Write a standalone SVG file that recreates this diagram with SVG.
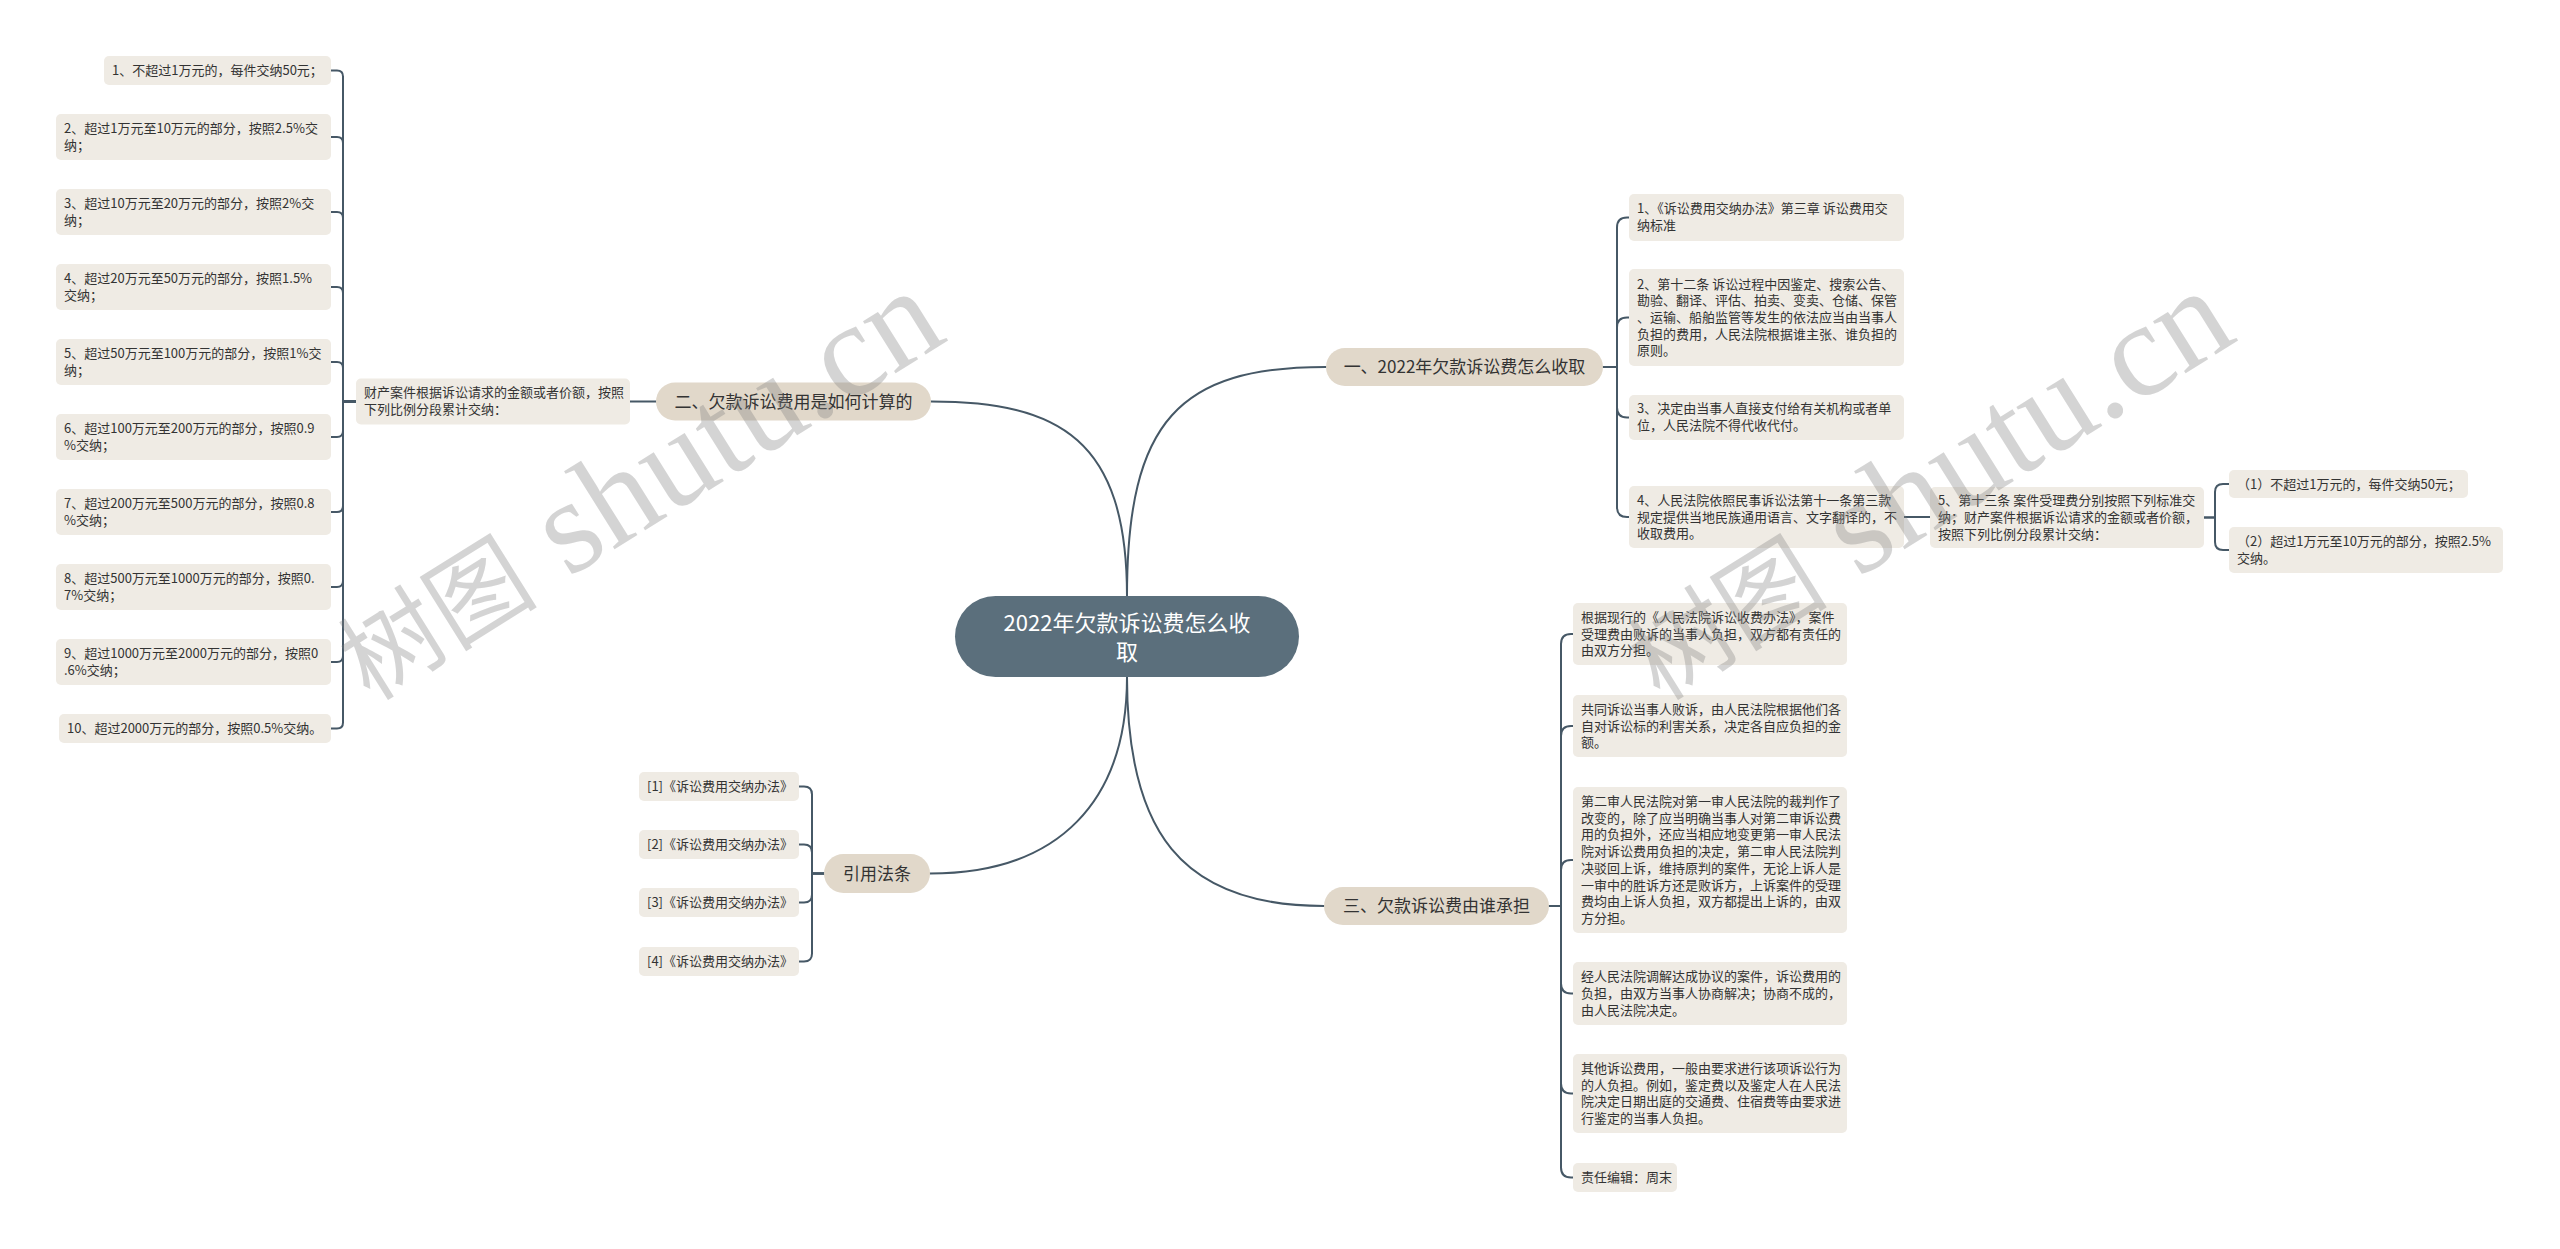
<svg xmlns="http://www.w3.org/2000/svg" width="2560" height="1249" viewBox="0 0 2560 1249">
<style>
.bg{fill:#ffffff}
.leaf rect{fill:#efebe4}
.leaf text{font-family:"Noto Sans CJK SC","Noto Sans",sans-serif;font-size:13px;fill:#333333}
.branch rect{fill:#e1d8ca}
.branch text{font-family:"Noto Sans CJK SC","Noto Sans",sans-serif;font-size:17px;fill:#333333;text-anchor:middle}
.root rect{fill:#5b6f7c}
.root text{font-family:"Noto Sans CJK SC","Noto Sans",sans-serif;font-size:22px;fill:#ffffff;text-anchor:middle}
.conn path{fill:none;stroke:#465866;stroke-width:2;stroke-linecap:round}
.wm{font-family:"Liberation Serif","Noto Sans CJK SC",serif;font-size:134px;fill:#808080;opacity:0.33}
.wm .cj{font-size:100px}
</style>
<rect class="bg" x="0" y="0" width="2560" height="1249"/>

<g class="conn" id="connectors">
<path d="M1127,596 C1127,420 1180,367 1326,367"/>
<path d="M1127,596 C1127,440 1060,401.5 931,401.5"/>
<path d="M1127,677 C1127,830 1180,906 1324,906"/>
<path d="M1127,677 C1127,800 1060,873.5 930,873.5"/>
<path d="M656,401.5 H630"/>
<path d="M356,401.5 H343 V76.5 Q343,70.5 337,70.5 H331"/>
<path d="M356,401.5 H343 V143 Q343,137 337,137 H331"/>
<path d="M356,401.5 H343 V218 Q343,212 337,212 H331"/>
<path d="M356,401.5 H343 V293 Q343,287 337,287 H331"/>
<path d="M356,401.5 H343 V368 Q343,362 337,362 H331"/>
<path d="M356,401.5 H343 V431 Q343,437 337,437 H331"/>
<path d="M356,401.5 H343 V506 Q343,512 337,512 H331"/>
<path d="M356,401.5 H343 V581 Q343,587 337,587 H331"/>
<path d="M356,401.5 H343 V656 Q343,662 337,662 H331"/>
<path d="M356,401.5 H343 V722.5 Q343,728.5 337,728.5 H331"/>
<path d="M824,873.5 H812 V794.5 Q812,786.5 804,786.5 H799"/>
<path d="M824,873.5 H812 V852.5 Q812,844.5 804,844.5 H799"/>
<path d="M824,873.5 H812 V894.5 Q812,902.5 804,902.5 H799"/>
<path d="M824,873.5 H812 V953.5 Q812,961.5 804,961.5 H799"/>
<path d="M1603,367 H1617 V227.5 Q1617,217.5 1627,217.5 H1629"/>
<path d="M1603,367 H1617 V327.5 Q1617,317.5 1627,317.5 H1629"/>
<path d="M1603,367 H1617 V407.5 Q1617,417.5 1627,417.5 H1629"/>
<path d="M1603,367 H1617 V507 Q1617,517 1627,517 H1629"/>
<path d="M1904,517 H1930"/>
<path d="M2204,517.5 H2215 V492 Q2215,484 2223,484 H2229"/>
<path d="M2204,517.5 H2215 V542 Q2215,550 2223,550 H2229"/>
<path d="M1549,906 H1561 V644 Q1561,634 1571,634 H1573"/>
<path d="M1549,906 H1561 V736 Q1561,726 1571,726 H1573"/>
<path d="M1549,906 H1561 V870 Q1561,860 1571,860 H1573"/>
<path d="M1549,906 H1561 V983.5 Q1561,993.5 1571,993.5 H1573"/>
<path d="M1549,906 H1561 V1083.5 Q1561,1093.5 1571,1093.5 H1573"/>
<path d="M1549,906 H1561 V1167.5 Q1561,1177.5 1571,1177.5 H1573"/>
</g>

<g class="root" id="root">
<rect x="955" y="596" width="344" height="81" rx="40.5"/>
<text x="1127" y="631">2022年欠款诉讼费怎么收</text>
<text x="1127" y="660">取</text>
</g>

<g class="branch" id="b1"><rect x="1326" y="348" width="277" height="38" rx="19"/><text x="1464.5" y="373">一、2022年欠款诉讼费怎么收取</text></g>
<g class="branch" id="b2"><rect x="656" y="382.5" width="275" height="38" rx="19"/><text x="793.5" y="407.5">二、欠款诉讼费用是如何计算的</text></g>
<g class="branch" id="b3"><rect x="1324" y="887" width="225" height="38" rx="19"/><text x="1436.5" y="912">三、欠款诉讼费由谁承担</text></g>
<g class="branch" id="b4"><rect x="824" y="854" width="106" height="39" rx="19.5"/><text x="877" y="879.5">引用法条</text></g>

<g class="leaf" id="b2-main"><rect x="356" y="378.5" width="274" height="46" rx="5"/><text x="364" y="397">财产案件根据诉讼请求的金额或者价额，按照</text><text x="364" y="414">下列比例分段累计交纳：</text></g>
<g class="leaf" id="l1"><rect x="104" y="56" width="227" height="29" rx="5"/><text x="112" y="75">1、不超过1万元的，每件交纳50元；</text></g>
<g class="leaf" id="l2"><rect x="56" y="114" width="275" height="46" rx="5"/><text x="64" y="133">2、超过1万元至10万元的部分，按照2.5%交</text><text x="64" y="150">纳；</text></g>
<g class="leaf" id="l3"><rect x="56" y="189" width="275" height="46" rx="5"/><text x="64" y="208">3、超过10万元至20万元的部分，按照2%交</text><text x="64" y="225">纳；</text></g>
<g class="leaf" id="l4"><rect x="56" y="264" width="275" height="46" rx="5"/><text x="64" y="283">4、超过20万元至50万元的部分，按照1.5%</text><text x="64" y="300">交纳；</text></g>
<g class="leaf" id="l5"><rect x="56" y="339" width="275" height="46" rx="5"/><text x="64" y="358">5、超过50万元至100万元的部分，按照1%交</text><text x="64" y="375">纳；</text></g>
<g class="leaf" id="l6"><rect x="56" y="414" width="275" height="46" rx="5"/><text x="64" y="433">6、超过100万元至200万元的部分，按照0.9</text><text x="64" y="450">%交纳；</text></g>
<g class="leaf" id="l7"><rect x="56" y="489" width="275" height="46" rx="5"/><text x="64" y="508">7、超过200万元至500万元的部分，按照0.8</text><text x="64" y="525">%交纳；</text></g>
<g class="leaf" id="l8"><rect x="56" y="564" width="275" height="46" rx="5"/><text x="64" y="583">8、超过500万元至1000万元的部分，按照0.</text><text x="64" y="600">7%交纳；</text></g>
<g class="leaf" id="l9"><rect x="56" y="639" width="275" height="46" rx="5"/><text x="64" y="658">9、超过1000万元至2000万元的部分，按照0</text><text x="64" y="675">.6%交纳；</text></g>
<g class="leaf" id="l10"><rect x="59" y="714" width="272" height="29" rx="5"/><text x="67" y="733">10、超过2000万元的部分，按照0.5%交纳。</text></g>

<g class="leaf" id="r1"><rect x="639" y="772" width="160" height="29" rx="5"/><text x="647" y="791">[1]《诉讼费用交纳办法》</text></g>
<g class="leaf" id="r2"><rect x="639" y="830" width="160" height="29" rx="5"/><text x="647" y="849">[2]《诉讼费用交纳办法》</text></g>
<g class="leaf" id="r3"><rect x="639" y="888" width="160" height="29" rx="5"/><text x="647" y="907">[3]《诉讼费用交纳办法》</text></g>
<g class="leaf" id="r4"><rect x="639" y="947" width="160" height="29" rx="5"/><text x="647" y="966">[4]《诉讼费用交纳办法》</text></g>

<g class="leaf" id="a1"><rect x="1629" y="194" width="275" height="47" rx="5"/><text x="1637" y="213">1、《诉讼费用交纳办法》第三章 诉讼费用交</text><text x="1637" y="230">纳标准</text></g>
<g class="leaf" id="a2"><rect x="1629" y="269" width="275" height="97" rx="5"/><text x="1637" y="288.6">2、第十二条 诉讼过程中因鉴定、搜索公告、</text><text x="1637" y="305.3">勘验、翻译、评估、拍卖、变卖、仓储、保管</text><text x="1637" y="322">、运输、船舶监管等发生的依法应当由当事人</text><text x="1637" y="338.7">负担的费用，人民法院根据谁主张、谁负担的</text><text x="1637" y="355.4">原则。</text></g>
<g class="leaf" id="a3"><rect x="1629" y="395" width="275" height="45" rx="5"/><text x="1637" y="413.2">3、决定由当事人直接支付给有关机构或者单</text><text x="1637" y="429.9">位，人民法院不得代收代付。</text></g>
<g class="leaf" id="a4"><rect x="1629" y="486" width="275" height="62" rx="5"/><text x="1637" y="504.8">4、人民法院依照民事诉讼法第十一条第三款</text><text x="1637" y="521.5">规定提供当地民族通用语言、文字翻译的，不</text><text x="1637" y="538.2">收取费用。</text></g>
<g class="leaf" id="a5"><rect x="1930" y="487" width="274" height="61" rx="5"/><text x="1938" y="505.3">5、第十三条 案件受理费分别按照下列标准交</text><text x="1938" y="522">纳；财产案件根据诉讼请求的金额或者价额，</text><text x="1938" y="538.7">按照下列比例分段累计交纳：</text></g>
<g class="leaf" id="a5-1"><rect x="2229" y="470" width="239" height="28" rx="5"/><text x="2237" y="488.5">（1）不超过1万元的，每件交纳50元；</text></g>
<g class="leaf" id="a5-2"><rect x="2229" y="527" width="274" height="46" rx="5"/><text x="2237" y="546">（2）超过1万元至10万元的部分，按照2.5%</text><text x="2237" y="562.7">交纳。</text></g>

<g class="leaf" id="c1"><rect x="1573" y="603" width="274" height="62" rx="5"/><text x="1581" y="621.8">根据现行的《人民法院诉讼收费办法》，案件</text><text x="1581" y="638.5">受理费由败诉的当事人负担，双方都有责任的</text><text x="1581" y="655.2">由双方分担。</text></g>
<g class="leaf" id="c2"><rect x="1573" y="695" width="274" height="62" rx="5"/><text x="1581" y="713.8">共同诉讼当事人败诉，由人民法院根据他们各</text><text x="1581" y="730.5">自对诉讼标的利害关系，决定各自应负担的金</text><text x="1581" y="747.2">额。</text></g>
<g class="leaf" id="c3"><rect x="1573" y="787" width="274" height="146" rx="5"/><text x="1581" y="806">第二审人民法院对第一审人民法院的裁判作了</text><text x="1581" y="822.7">改变的，除了应当明确当事人对第二审诉讼费</text><text x="1581" y="839.4">用的负担外，还应当相应地变更第一审人民法</text><text x="1581" y="856.1">院对诉讼费用负担的决定，第二审人民法院判</text><text x="1581" y="872.8">决驳回上诉，维持原判的案件，无论上诉人是</text><text x="1581" y="889.5">一审中的胜诉方还是败诉方，上诉案件的受理</text><text x="1581" y="906.2">费均由上诉人负担，双方都提出上诉的，由双</text><text x="1581" y="922.9">方分担。</text></g>
<g class="leaf" id="c4"><rect x="1573" y="962" width="274" height="63" rx="5"/><text x="1581" y="981.3">经人民法院调解达成协议的案件，诉讼费用的</text><text x="1581" y="998">负担，由双方当事人协商解决；协商不成的，</text><text x="1581" y="1014.7">由人民法院决定。</text></g>
<g class="leaf" id="c5"><rect x="1573" y="1054" width="274" height="79" rx="5"/><text x="1581" y="1073">其他诉讼费用，一般由要求进行该项诉讼行为</text><text x="1581" y="1089.7">的人负担。例如，鉴定费以及鉴定人在人民法</text><text x="1581" y="1106.4">院决定日期出庭的交通费、住宿费等由要求进</text><text x="1581" y="1123.1">行鉴定的当事人负担。</text></g>
<g class="leaf" id="c6"><rect x="1573" y="1163" width="104" height="29" rx="5"/><text x="1581" y="1182">责任编辑：周末</text></g>

<text class="wm" transform="translate(370,702) rotate(-32)"><tspan class="cj">树图</tspan> shutu.cn</text>
<text class="wm" transform="translate(1660,702) rotate(-32)"><tspan class="cj">树图</tspan> shutu.cn</text>
</svg>
